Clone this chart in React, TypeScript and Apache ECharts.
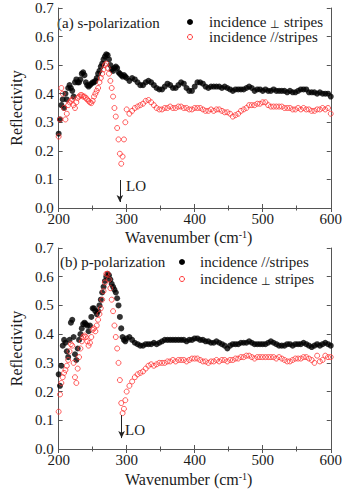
import React, { useEffect, useRef } from "react";
import * as echarts from "echarts";

// shared wavenumber grid (cm^-1)
const wavenumbers = [
  200, 202, 204, 206, 208, 210, 212, 214, 216, 218,
  220, 222, 224, 226, 228, 230, 232, 234, 236, 238,
  240, 242, 244, 246, 248, 250, 252, 254, 256, 258,
  260, 262, 264, 266, 268, 270, 272, 274, 276, 278,
  280, 282, 284, 286, 288, 290, 292, 294, 296, 298,
  300, 304, 308, 312, 316, 320, 324, 328, 332, 336,
  340, 344, 348, 352, 356, 360, 364, 368, 372, 376,
  380, 384, 388, 392, 396, 400, 404, 408, 412, 416,
  420, 424, 428, 432, 436, 440, 444, 448, 452, 456,
  460, 464, 468, 472, 476, 480, 484, 488, 492, 496,
  500, 504, 508, 512, 516, 520, 524, 528, 532, 536,
  540, 544, 548, 552, 556, 560, 564, 568, 572, 576,
  580, 584, 588, 592, 596, 600,
];

// (a) s-polarization, incidence ⊥ stripes (black)
const sPerp = [
  0.26, 0.31, 0.36, 0.38, 0.35, 0.40, 0.38, 0.42, 0.43, 0.42,
  0.41, 0.39, 0.44, 0.45, 0.44, 0.44, 0.45, 0.47, 0.475, 0.465,
  0.44, 0.43, 0.425, 0.43, 0.435, 0.44, 0.44, 0.445, 0.455, 0.47,
  0.48, 0.495, 0.505, 0.52, 0.53, 0.538, 0.535, 0.52, 0.50, 0.485,
  0.48, 0.49, 0.495, 0.49, 0.475, 0.47, 0.465, 0.46, 0.465, 0.46,
  0.455, 0.445, 0.455, 0.45, 0.44, 0.43, 0.43, 0.44, 0.445, 0.44,
  0.43, 0.42, 0.415, 0.415, 0.425, 0.435, 0.43, 0.42, 0.42, 0.43,
  0.44, 0.435, 0.42, 0.41, 0.41, 0.425, 0.44, 0.44, 0.435, 0.425,
  0.42, 0.425, 0.425, 0.425, 0.425, 0.42, 0.425, 0.42, 0.415, 0.41,
  0.415, 0.415, 0.415, 0.415, 0.42, 0.425, 0.42, 0.41, 0.415, 0.415,
  0.41, 0.415, 0.41, 0.41, 0.415, 0.41, 0.41, 0.41, 0.41, 0.405,
  0.41, 0.405, 0.405, 0.41, 0.415, 0.415, 0.415, 0.405, 0.405, 0.405,
  0.40, 0.405, 0.40, 0.40, 0.40, 0.39,
];

// (a) s-polarization, incidence //stripes (red)
const sPar = [
  0.25, 0.31, 0.42, 0.40, 0.35, 0.31, 0.33, 0.36, 0.37, 0.375,
  0.38, 0.36, 0.35, 0.37, 0.385, 0.39, 0.395, 0.395, 0.39, 0.39,
  0.385, 0.38, 0.375, 0.37, 0.367, 0.375, 0.39, 0.40, 0.41, 0.42,
  0.44, 0.455, 0.47, 0.485, 0.50, 0.505, 0.49, 0.47, 0.445, 0.42,
  0.39, 0.35, 0.32, 0.28, 0.24, 0.19, 0.155, 0.18, 0.24, 0.30,
  0.345, 0.33, 0.34, 0.35, 0.355, 0.36, 0.365, 0.375, 0.378, 0.37,
  0.36, 0.35, 0.345, 0.345, 0.35, 0.35, 0.355, 0.35, 0.35, 0.355,
  0.355, 0.35, 0.35, 0.345, 0.345, 0.35, 0.35, 0.35, 0.345, 0.34,
  0.34, 0.345, 0.34, 0.345, 0.345, 0.34, 0.335, 0.335, 0.33, 0.32,
  0.325, 0.33, 0.34, 0.345, 0.35, 0.36, 0.36, 0.36, 0.365, 0.365,
  0.37, 0.37, 0.36, 0.355, 0.355, 0.355, 0.355, 0.355, 0.35, 0.35,
  0.35, 0.345, 0.345, 0.35, 0.345, 0.35, 0.345, 0.345, 0.34, 0.34,
  0.345, 0.345, 0.35, 0.345, 0.35, 0.33,
];

// (b) p-polarization, incidence //stripes (black)
const pPar = [
  0.26, 0.22, 0.29, 0.36, 0.38, 0.37, 0.34, 0.32, 0.38, 0.44,
  0.45, 0.39, 0.33, 0.31, 0.35, 0.38, 0.40, 0.42, 0.435, 0.44,
  0.435, 0.43, 0.41, 0.43, 0.46, 0.49, 0.49, 0.48, 0.47, 0.48,
  0.50, 0.52, 0.545, 0.565, 0.585, 0.60, 0.61, 0.605, 0.59, 0.575,
  0.565, 0.555, 0.545, 0.525, 0.50, 0.46, 0.42, 0.39, 0.38, 0.375,
  0.385, 0.39, 0.38, 0.37, 0.365, 0.36, 0.36, 0.365, 0.365, 0.365,
  0.37, 0.365, 0.37, 0.375, 0.38, 0.38, 0.38, 0.38, 0.38, 0.38,
  0.38, 0.38, 0.375, 0.38, 0.38, 0.385, 0.385, 0.38, 0.38, 0.375,
  0.375, 0.37, 0.37, 0.375, 0.37, 0.365, 0.36, 0.35, 0.36, 0.365,
  0.365, 0.365, 0.37, 0.37, 0.37, 0.375, 0.37, 0.365, 0.365, 0.365,
  0.365, 0.365, 0.37, 0.375, 0.37, 0.365, 0.36, 0.36, 0.36, 0.365,
  0.365, 0.36, 0.365, 0.365, 0.365, 0.37, 0.365, 0.36, 0.355, 0.36,
  0.365, 0.36, 0.365, 0.37, 0.365, 0.36,
];

// (b) p-polarization, incidence ⊥ stripes (red)
const pPerp = [
  0.13, 0.19, 0.23, 0.25, 0.265, 0.275, 0.29, 0.31, 0.34, 0.365,
  0.36, 0.30, 0.25, 0.23, 0.28, 0.32, 0.35, 0.375, 0.39, 0.395,
  0.39, 0.375, 0.36, 0.37, 0.39, 0.415, 0.42, 0.41, 0.43, 0.45,
  0.47, 0.49, 0.52, 0.55, 0.58, 0.61, 0.61, 0.59, 0.56, 0.52,
  0.48, 0.43, 0.39, 0.35, 0.30, 0.24, 0.16, 0.125, 0.14, 0.17,
  0.20, 0.22, 0.235, 0.25, 0.26, 0.265, 0.27, 0.28, 0.29, 0.295,
  0.29, 0.295, 0.30, 0.30, 0.30, 0.305, 0.305, 0.31, 0.305, 0.31,
  0.31, 0.31, 0.305, 0.31, 0.315, 0.315, 0.315, 0.31, 0.305, 0.305,
  0.30, 0.305, 0.305, 0.31, 0.305, 0.31, 0.31, 0.305, 0.31, 0.31,
  0.315, 0.315, 0.32, 0.32, 0.325, 0.325, 0.32, 0.315, 0.32, 0.32,
  0.32, 0.32, 0.32, 0.32, 0.32, 0.315, 0.32, 0.315, 0.31, 0.305,
  0.305, 0.31, 0.315, 0.315, 0.315, 0.32, 0.32, 0.315, 0.31, 0.30,
  0.325, 0.305, 0.31, 0.325, 0.32, 0.32,
];

const FONT = '"Liberation Serif", "Times New Roman", serif';
const TEXT = "#1a1a1a";
const AXIS = "#555";
const RED = "#ff3535";

const pairs = (ys: number[]) => wavenumbers.map((x, i) => [x, ys[i]]);

function xAxes(gridIndex: number, nameGap: number) {
  const common = {
    gridIndex,
    type: "value",
    min: 200,
    max: 600,
    interval: 100,
    splitLine: { show: false },
    axisLine: { show: true, lineStyle: { color: AXIS, width: 1 } },
    axisTick: { show: true, inside: true, length: 4, lineStyle: { color: AXIS } },
    minorTick: { show: true, splitNumber: 2, length: 2.5, lineStyle: { color: AXIS } },
  };
  return [
    {
      ...common,
      position: "bottom",
      axisLabel: { margin: 3, fontSize: 15, fontFamily: FONT, color: TEXT },
      name: "Wavenumber (cm{sup|-1})",
      nameLocation: "middle",
      nameGap,
      nameTextStyle: {
        fontSize: 16,
        fontFamily: FONT,
        color: TEXT,
        padding: [0, 12, 0, 0],
        rich: {
          sup: { fontSize: 10, fontFamily: FONT, color: TEXT, verticalAlign: "top", padding: [0, 0, 7, 0] },
        },
      },
    },
    { ...common, position: "top", axisLabel: { show: false } },
  ];
}

function yAxes(gridIndex: number) {
  const common = {
    gridIndex,
    type: "value",
    min: 0,
    max: 0.7,
    interval: 0.1,
    splitLine: { show: false },
    axisLine: { show: true, lineStyle: { color: AXIS, width: 1 } },
    axisTick: { show: true, inside: true, length: 4, lineStyle: { color: AXIS } },
  };
  return [
    {
      ...common,
      position: "left",
      axisLabel: {
        margin: 5,
        fontSize: 15,
        fontFamily: FONT,
        color: TEXT,
        formatter: (v: number) => v.toFixed(1),
      },
      name: "Reflectivity",
      nameLocation: "middle",
      nameGap: 26,
      nameTextStyle: { fontSize: 16, fontFamily: FONT, color: TEXT },
    },
    { ...common, position: "right", axisLabel: { show: false } },
  ];
}

const blackItem = { color: "#000" };
const redItem = { color: "rgba(255,255,255,0)", borderColor: RED, borderWidth: 1 };

function arrow(x: number, y0: number, y1: number) {
  return {
    silent: true,
    symbol: ["none", "arrow"],
    symbolSize: [5, 7],
    lineStyle: { color: "#222", width: 1, type: "solid" },
    label: { show: false },
    emphasis: { disabled: true },
    data: [[{ coord: [x, y0] }, { coord: [x, y1] }]],
  };
}

function txt(text: string, x: number, y: number, size = 15) {
  return {
    type: "text",
    x,
    y,
    silent: true,
    style: {
      text,
      fontSize: size,
      fontFamily: FONT,
      fill: TEXT,
      lineHeight: 14,
      verticalAlign: "middle",
      align: "left",
      rich: {
        s: {
          fontSize: 11,
          fontFamily: FONT,
          fill: TEXT,
          lineHeight: 11,
          verticalAlign: "bottom",
          padding: [3, 0, 0, 0],
        },
      },
    },
  };
}

function dot(x: number, y: number) {
  return { type: "circle", silent: true, shape: { cx: x, cy: y, r: 3 }, style: { fill: "#000" } };
}
function ring(x: number, y: number) {
  return {
    type: "circle",
    silent: true,
    shape: { cx: x, cy: y, r: 2.5 },
    style: { fill: "rgba(255,255,255,0)", stroke: RED, lineWidth: 1 },
  };
}

export default function App() {
  const ref = useRef<HTMLDivElement>(null);
  useEffect(() => {
    if (!ref.current) return;
    const chart = echarts.init(ref.current, undefined, { renderer: "svg" });
    chart.setOption({
      animation: false,
      backgroundColor: "#fff",
      grid: [
        { left: 53, right: 11, top: 8, height: 200 },
        { left: 53, right: 11, top: 248, height: 201 },
      ],
      xAxis: [...xAxes(0, 21), ...xAxes(1, 22)],
      yAxis: [...yAxes(0), ...yAxes(1)],
      series: [
        {
          name: "(a) incidence ⊥ stripes",
          type: "scatter",
          xAxisIndex: 0,
          yAxisIndex: 0,
          symbol: "circle",
          symbolSize: 6,
          itemStyle: blackItem,
          data: pairs(sPerp),
          markLine: arrow(290, 0.098, 0.021),
        },
        {
          name: "(a) incidence //stripes",
          type: "scatter",
          xAxisIndex: 0,
          yAxisIndex: 0,
          symbol: "circle",
          symbolSize: 5,
          itemStyle: redItem,
          data: pairs(sPar),
        },
        {
          name: "(b) incidence //stripes",
          type: "scatter",
          xAxisIndex: 2,
          yAxisIndex: 2,
          symbol: "circle",
          symbolSize: 6,
          itemStyle: blackItem,
          data: pairs(pPar),
          markLine: arrow(292.5, 0.118, 0.038),
        },
        {
          name: "(b) incidence ⊥ stripes",
          type: "scatter",
          xAxisIndex: 2,
          yAxisIndex: 2,
          symbol: "circle",
          symbolSize: 5,
          itemStyle: redItem,
          data: pairs(pPerp),
        },
      ],
      graphic: [
        txt("(a) s-polarization", 57, 23),
        dot(190, 22),
        txt("incidence {s|⊥} stripes", 209, 22),
        ring(190, 37),
        txt("incidence //stripes", 209, 37),
        txt("LO", 126, 186),
        txt("(b) p-polarization", 60, 262),
        dot(182, 262),
        txt("incidence //stripes", 200, 262),
        ring(182, 279),
        txt("incidence {s|⊥} stripes", 200, 279),
        txt("LO", 125, 430),
      ],
    });
    return () => chart.dispose();
  }, []);
  return (
    <div
      ref={ref}
      style={{ position: "fixed", left: 0, top: 0, width: 345, height: 492, background: "#fff" }}
    />
  );
}
